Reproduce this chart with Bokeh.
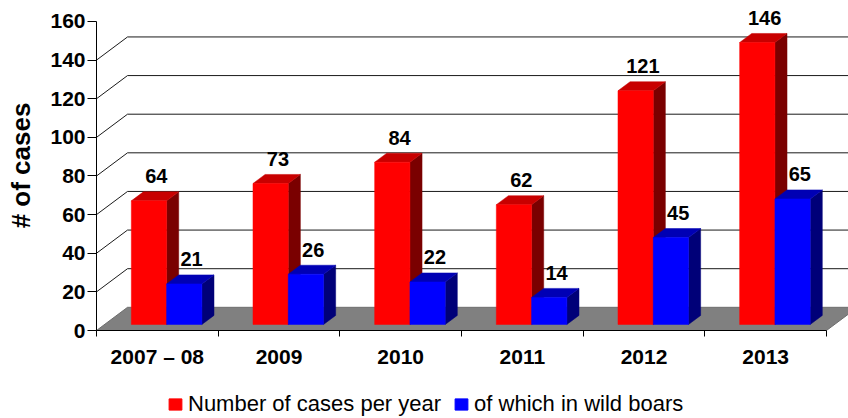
from bokeh.plotting import figure
from bokeh.models import Range1d, FixedTicker, Legend, LegendItem
from bokeh.layouts import column
from bokeh.core.properties import value
from bokeh.embed import file_html
from bokeh.resources import INLINE

# ---- data ----
categories = ["2007 \u2013 08", "2009", "2010", "2011", "2012", "2013"]
cases = [64, 73, 84, 62, 121, 146]
wild_boars = [21, 26, 22, 14, 45, 65]
y_ticks = [0, 20, 40, 60, 80, 100, 120, 140, 160]
grid_values = [20, 40, 60, 80, 100, 120, 140]
series_labels = ["Number of cases per year", "of which in wild boars"]
series_colors = ["#FF0000", "#0000FF"]

# ---- 3D geometry (in data units) ----
DX = 0.255      # depth offset in category units
DY = 12.0       # depth offset in value units
T0, T1 = 0.26, 0.65   # bar depth extent (fraction of floor depth)
BAR_W = 0.29
N = len(categories)
FONT = "Liberation Sans"

p = figure(width=848, height=384, output_backend="svg", toolbar_location=None,
           x_range=Range1d(0, 6.181), y_range=Range1d(0, 170.87),
           min_border_left=96, min_border_right=0, min_border_top=0,
           min_border_bottom=54)
p.outline_line_color = None
p.grid.visible = False
p.background_fill_color = "white"

# floor
p.patch([0, N, N + DX, DX], [0, 0, DY, DY], fill_color="#808080",
        line_color="#6e6e6e", line_width=1)

# back gridlines and diagonals
for v in grid_values:
    p.line([DX, 6.3], [v + DY, v + DY], line_color="#1a1a1a", line_width=1)
    p.line([0, DX], [v, v + DY], line_color="#1a1a1a", line_width=1)


def bar_faces(vals, offset):
    fx, fy, tx, ty, sx, sy = [], [], [], [], [], []
    s0, s1 = T0 * DX, T1 * DX
    o0, o1 = T0 * DY, T1 * DY
    for i, v in enumerate(vals):
        xl = i + 0.5 + offset
        xr = xl + BAR_W
        fx.append([xl + s0, xr + s0, xr + s0, xl + s0])
        fy.append([o0, o0, v + o0, v + o0])
        tx.append([xl + s0, xr + s0, xr + s1, xl + s1])
        ty.append([v + o0, v + o0, v + o1, v + o1])
        sx.append([xr + s0, xr + s1, xr + s1, xr + s0])
        sy.append([o0, o1, v + o1, v + o0])
    return fx, fy, tx, ty, sx, sy


for vals, off, cf, ct, cs in [(cases, -BAR_W + 0.01, series_colors[0], "#C80000", "#7A0000"),
                              (wild_boars, 0.01, series_colors[1], "#0000B4", "#000078")]:
    fx, fy, tx, ty, sx, sy = bar_faces(vals, off)
    p.patches(sx, sy, fill_color=cs, line_color=cs, line_width=0.5)
    p.patches(tx, ty, fill_color=ct, line_color=ct, line_width=0.5)
    p.patches(fx, fy, fill_color=cf, line_color=cf, line_width=0.5)
    lx = [i + 0.5 + off + BAR_W / 2 + T0 * DX + 0.06 for i in range(N)]
    ly = [v + 15.8 for v in vals]
    p.text(lx, ly, text=[str(v) for v in vals], text_align="center",
           text_baseline="alphabetic", text_font=value(FONT),
           text_font_style="bold", text_font_size="20px", text_color="black")

# y axis
ya = p.yaxis[0]
ya.ticker = FixedTicker(ticks=y_ticks)
ya.bounds = (0, 160)
ya.major_tick_out = 9
ya.major_tick_in = 0
ya.minor_tick_line_color = None
ya.major_label_standoff = 2
ya.major_label_text_font = FONT
ya.major_label_text_font_style = "bold"
ya.major_label_text_font_size = "21px"
ya.major_label_text_color = "black"
ya.axis_line_color = "black"
ya.major_tick_line_color = "black"
ya.axis_label = "# of cases"
ya.axis_label_text_font = FONT
ya.axis_label_text_font_style = "bold"
ya.axis_label_text_font_size = "26px"
ya.axis_label_text_color = "black"
ya.axis_label_standoff = 11

# x axis
xa = p.xaxis[0]
centers = [i + 0.5 for i in range(N)]
xa.ticker = FixedTicker(ticks=centers, minor_ticks=list(range(N + 1)))
xa.bounds = (0, N)
xa.major_label_overrides = {c: lab for c, lab in zip(centers, categories)}
xa.major_tick_out = 0
xa.major_tick_in = 0
xa.major_tick_line_color = None
xa.minor_tick_out = 6
xa.minor_tick_in = 0
xa.minor_tick_line_color = "black"
xa.axis_line_color = "black"
xa.major_label_standoff = 8
xa.major_label_text_font = FONT
xa.major_label_text_font_style = "bold"
xa.major_label_text_font_size = "21px"
xa.major_label_text_color = "black"

# ---- legend strip (frame aligned with the chart frame) ----
p2 = figure(width=848, height=34, output_backend="svg", toolbar_location=None,
            x_range=Range1d(0, 1), y_range=Range1d(0, 1),
            min_border_left=0, min_border_right=0, min_border_top=0,
            min_border_bottom=0)
p2.axis.visible = False
p2.grid.visible = False
p2.outline_line_color = None
# legend swatches (kept outside the visible range; only their legend glyphs show)
leg_r = [p2.quad(left=[-3], right=[-2], top=[-2], bottom=[-3],
                 fill_color=c, line_color=c) for c in series_colors]
legend = Legend(items=[LegendItem(label=lab, renderers=[r])
                       for lab, r in zip(series_labels, leg_r)],
                orientation="horizontal", location=(71, 1),
                glyph_width=16, glyph_height=14, label_standoff=5, spacing=12,
                padding=0, margin=0, border_line_color=None,
                background_fill_alpha=0, label_text_font=FONT,
                label_text_font_size="22px", label_text_color="black")
p2.add_layout(legend)

layout = column(p, p2, spacing=0)
open("out.html", "w").write(file_html(layout, INLINE))
